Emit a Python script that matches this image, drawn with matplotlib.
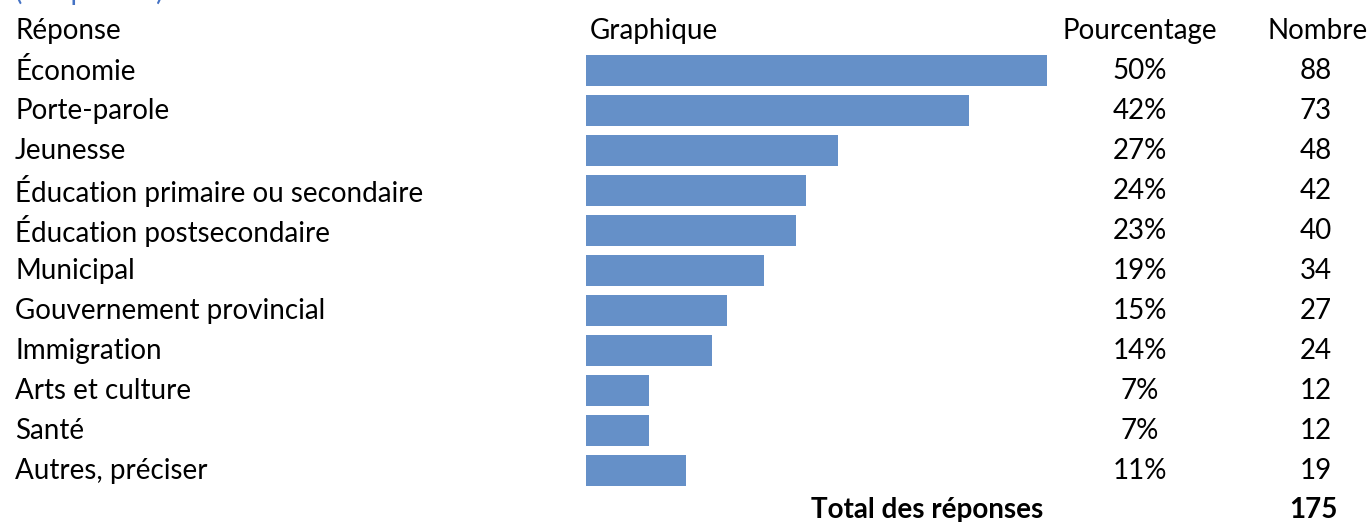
import matplotlib.pyplot as plt

# Survey results: number of respondents per topic
categories = [
    "Économie",
    "Porte-parole",
    "Jeunesse",
    "Éducation primaire ou secondaire",
    "Éducation postsecondaire",
    "Municipal",
    "Gouvernement provincial",
    "Immigration",
    "Arts et culture",
    "Santé",
    "Autres, préciser",
]
counts = [88, 73, 48, 42, 40, 34, 27, 24, 12, 12, 19]
total = 175
percents = [100 * c / total for c in counts]

plt.rcParams['font.family'] = ['Lato', 'DejaVu Sans']

fig = plt.figure(figsize=(13.71, 5.22), dpi=100)
ax = fig.add_axes([0, 0, 1, 1])
ax.set_xlim(0, 1371)
ax.set_ylim(522, 0)
ax.axis('off')

fs = 20
bar_x0 = 586
px_per_pct = 9.17
row0, step = 70, 40

ax.text(15, -9, "(3 réponses)", color="#4472c4", fontsize=fs, va='center')
ax.text(15, 31, "Réponse", fontsize=fs, va='center')
ax.text(590, 31, "Graphique", fontsize=fs, va='center')
ax.text(1140, 31, "Pourcentage", fontsize=fs, va='center', ha='center')
ax.text(1368, 31, "Nombre", fontsize=fs, va='center', ha='right')

for i, (cat, pct, n) in enumerate(zip(categories, percents, counts)):
    y = row0 + step * i
    ax.text(15, y + 1, cat, fontsize=fs, va='center')
    ax.barh(y, pct * px_per_pct, left=bar_x0, height=31, color="#6590c8")
    ax.text(1140, y + 1, f"{round(pct)}%", fontsize=fs, va='center', ha='center')
    ax.text(1332, y + 1, str(n), fontsize=fs, va='center', ha='right')

ax.text(1043, 510, "Total des réponses", fontsize=fs, fontweight='bold',
        va='center', ha='right')
ax.text(1338, 510, str(total), fontsize=fs, fontweight='bold',
        va='center', ha='right')

fig.savefig("out.png", dpi=100)
